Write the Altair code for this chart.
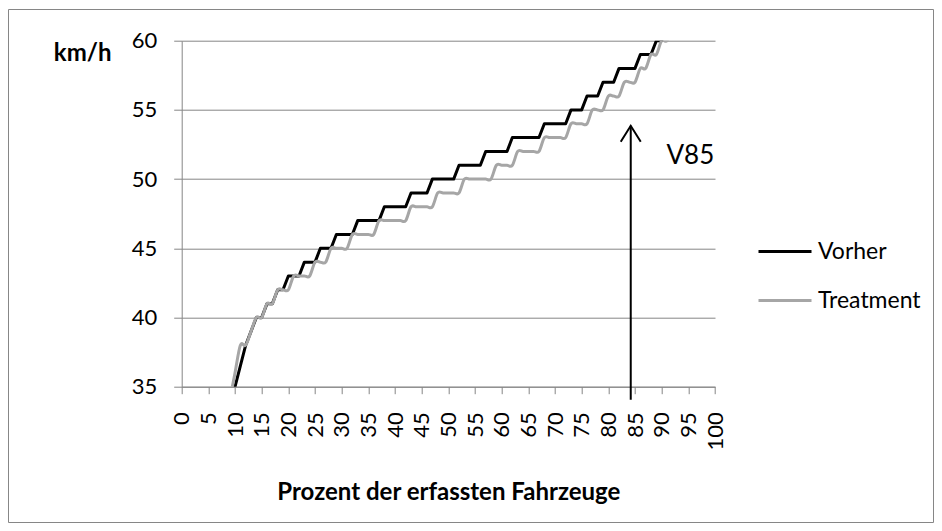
import altair as alt
import pandas as pd

# ---- data ----
series_names = ["Vorher", "Treatment"]
series_colors = ["#000000", "#A6A6A6"]

vorher_pct = [9, 10, 11, 12, 13, 14, 15, 16, 17, 18, 19, 20, 21, 22, 23, 24, 25, 26, 27, 28,
              29, 30, 31, 32, 33, 34, 35, 36, 37, 38, 39, 40, 41, 42, 43, 44, 45, 46, 47, 48,
              49, 50, 51, 52, 53, 54, 55, 56, 57, 58, 59, 60, 61, 62, 63, 64, 65, 66, 67, 68,
              69, 70, 71, 72, 73, 74, 75, 76, 77, 78, 79, 80, 81, 82, 83, 84, 85, 86, 87, 88,
              89, 90, 91]
vorher_kmh = [33, 35, 36.5, 38, 39, 40, 40, 41, 41, 42, 42, 43, 43, 43, 44, 44, 44, 45, 45, 45,
              46, 46, 46, 46, 47, 47, 47, 47, 47, 48, 48, 48, 48, 48, 49, 49, 49, 49, 50, 50,
              50, 50, 50, 51, 51, 51, 51, 51, 52, 52, 52, 52, 52, 53, 53, 53, 53, 53, 53, 54,
              54, 54, 54, 54, 55, 55, 55, 56, 56, 56, 57, 57, 57, 58, 58, 58, 58, 59, 59, 59,
              60, 60, 61]

treatment_pct = [9, 10, 11, 12, 13, 14, 15, 16, 17, 18, 19, 20, 21, 22, 23, 24, 25, 26, 27, 28,
                 29, 30, 31, 32, 33, 34, 35, 36, 37, 38, 39, 40, 41, 42, 43, 44, 45, 46, 47, 48,
                 49, 50, 51, 52, 53, 54, 55, 56, 57, 58, 59, 60, 61, 62, 63, 64, 65, 66, 67, 68,
                 69, 70, 71, 72, 73, 74, 75, 76, 77, 78, 79, 80, 81, 82, 83, 84, 85, 86, 87, 88,
                 89, 90, 91, 92, 93]
treatment_kmh = [34, 36, 38, 38, 39, 40, 40, 41, 41, 42, 42, 42, 43, 43, 43, 43, 44, 44, 44, 45,
                 45, 45, 45, 46, 46, 46, 46, 46, 47, 47, 47, 47, 47, 47, 48, 48, 48, 48, 48, 49,
                 49, 49, 49, 49, 50, 50, 50, 50, 50, 50, 51, 51, 51, 51, 52, 52, 52, 52, 52, 53,
                 53, 53, 53, 53, 54, 54, 54, 54, 55, 55, 55, 56, 56, 56, 57, 57, 57, 58, 58, 59,
                 59, 60, 60, 61, 62]

x_ticks = [0, 5, 10, 15, 20, 25, 30, 35, 40, 45, 50, 55, 60, 65, 70, 75, 80, 85, 90, 95, 100]
y_ticks = [35, 40, 45, 50, 55, 60]

arrow_pct = [84.2]
arrow_kmh = [53.85]

note_text = ["V85"]
note_pct = [90.9]
note_kmh = [51.06]

x_title = "Prozent der erfassten Fahrzeuge"
y_title = "km/h"

# ---- tables ----
df_v = pd.DataFrame({"pct": vorher_pct, "kmh": vorher_kmh, "series": series_names[0]})
df_t = pd.DataFrame({"pct": treatment_pct, "kmh": treatment_kmh, "series": series_names[1]})
df_arrow = pd.DataFrame({"pct": arrow_pct, "kmh": arrow_kmh})
df_note = pd.DataFrame({"pct": note_pct, "kmh": note_kmh, "label": note_text})

W, H = 533.3, 346.0
FONT = "Lato"
GRID = "#868686"

x_scale = alt.Scale(domain=[0, 100], nice=False, zero=False)
y_scale = alt.Scale(domain=[35, 60], nice=False, zero=False)
color_scale = alt.Scale(domain=series_names, range=series_colors)

x_axis = alt.Axis(
    values=x_ticks, grid=False, labelAngle=270, labelAlign="right", labelBaseline="middle",
    labelPadding=18, tickSize=7, tickColor=GRID, domainColor=GRID, labelFont=FONT,
    labelFontSize=22, labelColor="black", labelOverlap=False, labelFlush=False,
    title=x_title, titleFont=FONT, titleFontSize=24, titleFontWeight="bold",
    titleColor="black", titleY=112.6, titleX=W / 2, titleAlign="center",
    titleBaseline="alphabetic",
)
y_axis = alt.Axis(
    values=y_ticks, grid=True, gridColor=GRID, gridWidth=1, tickSize=8, tickColor=GRID,
    domainColor=GRID, labelPadding=17, labelFont=FONT, labelFontSize=22, labelColor="black",
    title=y_title, titleAngle=0, titleX=-128.4, titleY=19.3, titleAlign="left",
    titleBaseline="alphabetic", titleFont=FONT, titleFontSize=24, titleFontWeight="bold",
    titleColor="black",
)
legend = alt.Legend(
    orient="none", legendX=575.3, legendY=182.8, direction="vertical", title=None,
    symbolType="stroke", symbolSize=2809, symbolStrokeWidth=3, labelFont=FONT,
    labelFontSize=23, labelColor="black", labelOffset=5, rowPadding=9, padding=0,
)

X = alt.X("pct:Q", scale=x_scale, axis=x_axis)
Y = alt.Y("kmh:Q", scale=y_scale, axis=y_axis)

frame = alt.Chart(alt.Data(values=[{"k": 1}])).mark_rect(
    fill="transparent", stroke=GRID, strokeWidth=1
).encode(
    x=alt.value(-173.2), x2=alt.value(751.8), y=alt.value(-31.2), y2=alt.value(481.8)
)

line_v = alt.Chart(df_v).mark_line(
    clip=True, strokeWidth=3, strokeJoin="round", strokeCap="round"
).encode(
    x=X, y=Y,
    color=alt.Color("series:N", scale=color_scale, legend=legend),
)

line_t = alt.Chart(df_t).mark_line(
    clip=True, strokeWidth=3, strokeJoin="round", strokeCap="round", interpolate="cardinal"
).encode(
    x=X, y=Y,
    color=alt.Color("series:N", scale=color_scale, legend=legend),
)

arrow_line = alt.Chart(df_arrow).mark_rule(color="black", strokeWidth=2).encode(
    x=X, y=Y, y2=alt.value(H + 13),
)

arrow_head = alt.Chart(df_arrow).mark_point(
    shape="M-10,16L0,0L10,16", size=4, filled=False, color="black", strokeWidth=2, opacity=1
).encode(x=X, y=Y)

note = alt.Chart(df_note).mark_text(
    align="left", baseline="alphabetic", font=FONT, fontSize=26, color="black"
).encode(x=X, y=Y, text="label:N")

chart = alt.layer(frame, line_v, line_t, arrow_line, arrow_head, note).properties(
    width=W, height=H,
    autosize=alt.AutoSizeParams(type="none"),
    padding={"left": 173.7, "top": 32.7, "right": 219.0, "bottom": 136.3},
    background="white",
).configure_view(strokeWidth=0)

chart.save("out.html", embed_options={"renderer": "svg", "actions": False})
